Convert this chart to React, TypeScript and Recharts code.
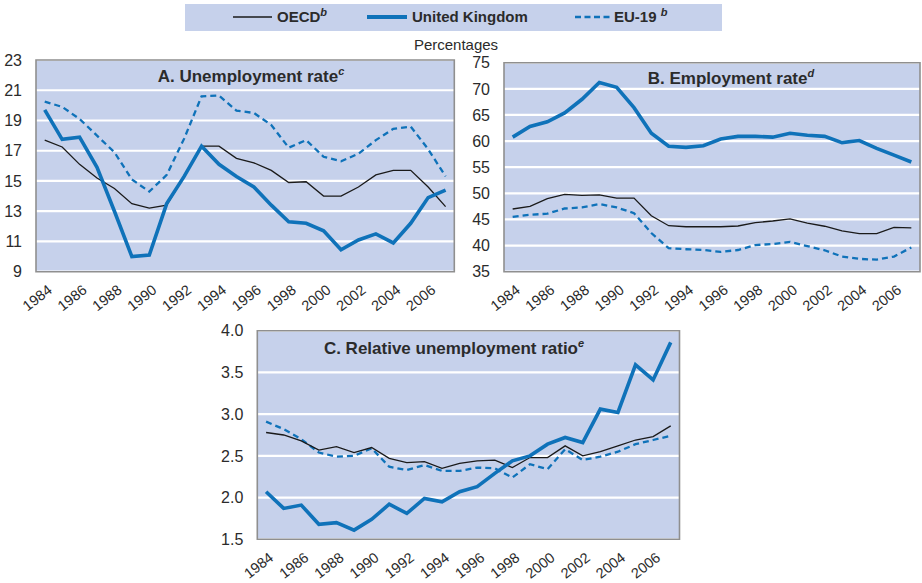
import React from 'react';
import { LineChart, Line, XAxis, YAxis, CartesianGrid, ReferenceArea } from 'recharts';

const years = [1984, 1985, 1986, 1987, 1988, 1989, 1990, 1991, 1992, 1993, 1994, 1995, 1996, 1997, 1998, 1999, 2000, 2001, 2002, 2003, 2004, 2005, 2006, 2007];
const yearLabels = [1984, 1986, 1988, 1990, 1992, 1994, 1996, 1998, 2000, 2002, 2004, 2006];

const unempOECD = [17.7, 17.25, 16.1, 15.2, 14.5, 13.5, 13.2, 13.4, 15.3, 17.3, 17.3, 16.5, 16.2, 15.7, 14.9, 14.95, 14.0, 14.0, 14.6, 15.4, 15.7, 15.7, 14.6, 13.3];
const unempUK = [19.7, 17.75, 17.9, 15.9, 13.0, 10.0, 10.1, 13.5, 15.3, 17.3, 16.1, 15.3, 14.6, 13.4, 12.3, 12.2, 11.7, 10.45, 11.1, 11.5, 10.9, 12.2, 13.9, 14.4];
const unempEU = [20.25, 19.9, 19.1, 18.0, 16.9, 15.1, 14.3, 15.4, 17.8, 20.6, 20.65, 19.65, 19.5, 18.7, 17.2, 17.7, 16.6, 16.3, 16.8, 17.7, 18.45, 18.6, 17.1, 15.3];

const emplOECD = [47.0, 47.5, 49.0, 49.8, 49.6, 49.7, 49.1, 49.1, 45.7, 43.8, 43.6, 43.6, 43.6, 43.75, 44.4, 44.7, 45.1, 44.3, 43.7, 42.8, 42.3, 42.3, 43.5, 43.4];
const emplUK = [60.75, 62.8, 63.7, 65.4, 68.0, 71.2, 70.3, 66.4, 61.5, 59.0, 58.8, 59.1, 60.4, 60.9, 60.9, 60.75, 61.5, 61.1, 60.9, 59.7, 60.1, 58.6, 57.3, 56.0];
const emplEU = [45.5, 45.9, 46.1, 47.1, 47.3, 47.95, 47.3, 46.2, 42.4, 39.5, 39.3, 39.15, 38.8, 39.15, 40.1, 40.3, 40.7, 39.9, 39.1, 37.9, 37.45, 37.3, 37.9, 39.65];

const ratioOECD = [2.78, 2.75, 2.68, 2.57, 2.61, 2.54, 2.60, 2.47, 2.42, 2.43, 2.35, 2.41, 2.44, 2.45, 2.36, 2.48, 2.48, 2.62, 2.50, 2.55, 2.62, 2.69, 2.73, 2.86];
const ratioUK = [2.07, 1.87, 1.91, 1.68, 1.70, 1.61, 1.74, 1.92, 1.81, 1.99, 1.95, 2.07, 2.13, 2.29, 2.44, 2.50, 2.64, 2.72, 2.66, 3.06, 3.02, 3.59, 3.41, 3.86];
const ratioEU = [2.91, 2.82, 2.70, 2.54, 2.49, 2.50, 2.59, 2.37, 2.33, 2.39, 2.32, 2.32, 2.36, 2.35, 2.24, 2.40, 2.34, 2.58, 2.45, 2.49, 2.55, 2.64, 2.69, 2.74];

const ticksA = [9, 11, 13, 15, 17, 19, 21, 23];
const ticksB = [35, 40, 45, 50, 55, 60, 65, 70, 75];
const ticksC = [1.5, 2.0, 2.5, 3.0, 3.5, 4.0];

const FONT = '"Liberation Sans", Arial, Helvetica, sans-serif';
const BG = '#c6d1eb';
const BLUE = '#0f72b9';
const TEXT = '#2b2b2b';

const rowsOf = (o: number[], u: number[], e: number[]) =>
  years.map((y, i) => ({ year: y, oecd: o[i], uk: u[i], eu: e[i] }));

const boundaries = years.slice(0, -1).map((y) => y + 0.5);
const xDomain = [years[0] - 0.5, years[years.length - 1] + 0.5];

const YearTick = (props: any) => {
  const { x, y, payload } = props;
  const ax = x + 2;
  const ay = y + 12;
  return (
    <text
      x={ax}
      y={ay}
      dy="0.71em"
      transform={`rotate(-38 ${ax} ${ay})`}
      textAnchor="end"
      fontSize={14.5}
      fill={TEXT}
      fontFamily={FONT}
    >
      {payload.value}
    </text>
  );
};

type PanelProps = {
  width: number;
  height: number;
  top: number;
  right: number;
  yWidth: number;
  xHeight: number;
  domain: number[];
  yTicks: number[];
  rows: any[];
  fmt?: (v: number) => string;
};

function Panel({ width, height, top, right, yWidth, xHeight, domain, yTicks, rows, fmt }: PanelProps) {
  return (
    <LineChart width={width} height={height} data={rows} margin={{ top, right, left: 0, bottom: 0 }}>
      <CartesianGrid vertical={false} stroke="#ffffff" strokeWidth={2.2} fill={BG} fillOpacity={1} />
      <XAxis
        dataKey="year"
        type="number"
        domain={xDomain}
        ticks={yearLabels}
        interval={0}
        tick={<YearTick />}
        tickLine={false}
        axisLine={false}
        tickSize={0}
        tickMargin={0}
        height={xHeight}
      />
      <XAxis
        xAxisId="marks"
        type="number"
        domain={xDomain}
        ticks={boundaries}
        interval={0}
        tick={false}
        axisLine={false}
        mirror
        height={0}
        tickSize={4}
        tickLine={{ stroke: '#8a8a8a', strokeWidth: 1 }}
      />
      <YAxis
        type="number"
        domain={domain}
        ticks={yTicks}
        interval={0}
        width={yWidth}
        axisLine={false}
        tickLine={false}
        tickSize={0}
        tickMargin={14}
        tick={{ fontSize: 16, fill: TEXT, fontFamily: FONT }}
        tickFormatter={fmt}
      />
      <ReferenceArea
        x1={xDomain[0]}
        x2={xDomain[1]}
        y1={domain[0]}
        y2={domain[1]}
        fill="none"
        fillOpacity={0}
        stroke="#8f8f8f"
        strokeWidth={1.6}
        ifOverflow="visible"
      />
      <Line type="linear" dataKey="eu" stroke={BLUE} strokeWidth={2.3} strokeDasharray="6 4" dot={false} activeDot={false} isAnimationActive={false} />
      <Line type="linear" dataKey="oecd" stroke="#1a1a1a" strokeWidth={1.3} dot={false} activeDot={false} isAnimationActive={false} />
      <Line type="linear" dataKey="uk" stroke={BLUE} strokeWidth={3.6} dot={false} activeDot={false} isAnimationActive={false} />
    </LineChart>
  );
}

const Title = ({ cx, top, text, sup }: { cx: number; top: number; text: string; sup: string }) => (
  <div
    style={{
      position: 'absolute',
      left: cx - 200,
      top,
      width: 400,
      textAlign: 'center',
      fontSize: 17,
      lineHeight: '20px',
      fontWeight: 'bold',
      color: TEXT,
      whiteSpace: 'nowrap',
    }}
  >
    {text}
    <span style={{ fontSize: 11, fontStyle: 'italic', position: 'relative', top: -7 }}>{sup}</span>
  </div>
);

const LegendItem = ({ left, lineLeft, lineWidth, dashed, thick, label }: any) => (
  <>
    <svg style={{ position: 'absolute', left: lineLeft, top: 0 }} width={lineWidth} height={27}>
      <line
        x1={0}
        x2={lineWidth}
        y1={13}
        y2={13}
        stroke={thick || dashed ? BLUE : '#1a1a1a'}
        strokeWidth={thick ? 4 : dashed ? 2.5 : 1.4}
        strokeDasharray={dashed ? '6 3.5' : undefined}
      />
    </svg>
    <span
      style={{
        position: 'absolute',
        left,
        top: 4,
        fontSize: 15,
        lineHeight: '18px',
        fontWeight: 'bold',
        color: TEXT,
        whiteSpace: 'nowrap',
      }}
    >
      {label}
    </span>
  </>
);

export default function App() {
  const rowsA = rowsOf(unempOECD, unempUK, unempEU);
  const rowsB = rowsOf(emplOECD, emplUK, emplEU);
  const rowsC = rowsOf(ratioOECD, ratioUK, ratioEU);
  return (
    <div
      style={{
        position: 'absolute',
        left: 0,
        top: 0,
        width: 922,
        height: 583,
        background: '#ffffff',
        fontFamily: FONT,
        overflow: 'hidden',
      }}
    >
      <div style={{ position: 'absolute', left: 185, top: 4, width: 537, height: 27, background: BG }}>
        <LegendItem lineLeft={48} lineWidth={39} left={92} label={<>OECD<span style={{ fontSize: 11, fontStyle: 'italic', position: 'relative', top: -6 }}>b</span></>} />
        <LegendItem lineLeft={182} lineWidth={40} thick left={227} label="United Kingdom" />
        <LegendItem lineLeft={390} lineWidth={36} dashed left={429} label={<>EU-19 <span style={{ fontSize: 11, fontStyle: 'italic', position: 'relative', top: -6 }}>b</span></>} />
      </div>
      <div
        style={{
          position: 'absolute',
          left: 356,
          top: 36,
          width: 200,
          textAlign: 'center',
          fontSize: 15,
          lineHeight: '18px',
          color: TEXT,
        }}
      >
        Percentages
      </div>

      <div style={{ position: 'absolute', left: 0, top: 50 }}>
        <Panel width={470} height={270} top={10} right={15.7} yWidth={36} xHeight={48.3} domain={[9, 23]} yTicks={ticksA} rows={rowsA} />
      </div>
      <div style={{ position: 'absolute', left: 460, top: 50 }}>
        <Panel width={462} height={270} top={12.7} right={2} yWidth={44} xHeight={48.3} domain={[35, 75]} yTicks={ticksB} rows={rowsB} />
      </div>
      <div style={{ position: 'absolute', left: 200, top: 320 }}>
        <Panel width={490} height={263} top={10.7} right={10.5} yWidth={57.3} xHeight={43.7} domain={[1.5, 4.0]} yTicks={ticksC} rows={rowsC} fmt={(v: number) => v.toFixed(1)} />
      </div>

      <Title cx={251} top={67} text="A. Unemployment rate" sup="c" />
      <Title cx={731} top={69} text="B. Employment rate" sup="d" />
      <Title cx={454} top={339} text="C. Relative unemployment ratio" sup="e" />
    </div>
  );
}
